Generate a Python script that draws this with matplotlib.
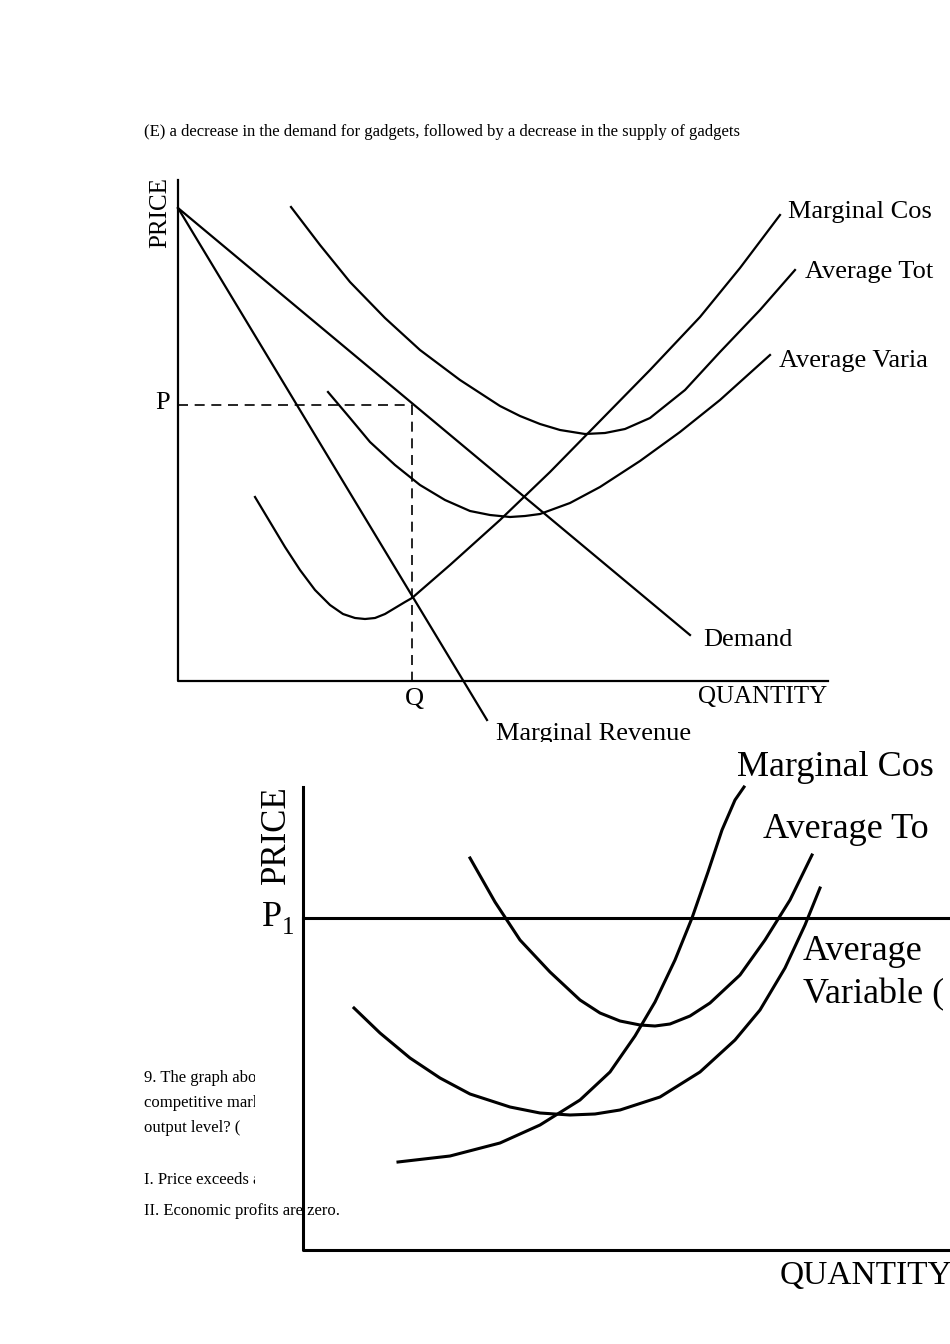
import numpy as np
import matplotlib
matplotlib.use("Agg")
from matplotlib import pyplot as plt
from matplotlib.patches import Rectangle

plt.rcParams['font.family'] = ['Liberation Serif', 'DejaVu Serif']

# page coordinates in pixels (x right, y down)
# ---- diagram 1 ----
demand_x = [178, 690]
demand_y = [208, 635]
mr_x = [178, 487]
mr_y = [208, 720]
mc1_x = [255, 270, 285, 300, 315, 330, 343, 355, 365, 375, 385, 395, 405, 412, 450, 500, 550, 600, 650, 700, 740, 780]
mc1_y = [497, 522, 547, 570, 590, 605, 614, 618, 619, 618, 614, 608, 602, 598, 565, 520, 472, 421, 370, 317, 268, 215]
atc1_x = [291, 320, 350, 385, 420, 460, 500, 520, 540, 560, 585, 605, 625, 650, 685, 720, 760, 795]
atc1_y = [207, 245, 282, 318, 350, 380, 406, 416, 424, 430, 434, 433, 429, 418, 390, 352, 310, 270]
avc1_x = [328, 350, 370, 395, 420, 445, 470, 490, 510, 525, 540, 570, 600, 640, 680, 720, 770]
avc1_y = [392, 418, 442, 465, 485, 500, 511, 515, 517, 516, 514, 503, 487, 461, 432, 400, 355]
P1_level, Q1_level = 405, 412

# ---- diagram 2 ----
mc2_x = [398, 450, 500, 540, 580, 610, 635, 655, 675, 692, 708, 722, 735, 744]
mc2_y = [1162, 1156, 1143, 1125, 1100, 1072, 1036, 1002, 960, 918, 872, 830, 800, 787]
atc2_x = [470, 495, 520, 550, 580, 600, 620, 640, 655, 670, 690, 710, 740, 765, 790, 812]
atc2_y = [858, 902, 940, 972, 1000, 1013, 1021, 1025, 1026, 1024, 1016, 1003, 975, 940, 900, 855]
avc2_x = [354, 380, 410, 440, 470, 510, 540, 570, 595, 620, 660, 700, 735, 760, 785, 805, 820]
avc2_y = [1008, 1033, 1058, 1078, 1094, 1107, 1113, 1115, 1114, 1110, 1097, 1072, 1040, 1010, 968, 925, 888]
P2_level = 918

fig = plt.figure(figsize=(9.5, 13.44), dpi=100)
ax = fig.add_axes([0, 0, 1, 1])
ax.set_xlim(0, 950)
ax.set_ylim(1344, 0)
ax.axis('off')

k = dict(color='black', lw=1.6)
txt = dict(fontsize=12, va='center', ha='left')

ax.text(144, 132, "(E) a decrease in the demand for gadgets, followed by a decrease in the supply of gadgets", **txt)

# diagram 1
ax.plot([178, 178, 828], [180, 681, 681], **k)
ax.plot(demand_x, demand_y, **k)
ax.plot(mr_x, mr_y, **k)
ax.plot(mc1_x, mc1_y, **k)
ax.plot(atc1_x, atc1_y, **k)
ax.plot(avc1_x, avc1_y, **k)
ax.plot([178, Q1_level], [P1_level, P1_level], color='black', lw=1.2, ls=(0, (6, 4)))
ax.plot([Q1_level, Q1_level], [P1_level, 681], color='black', lw=1.2, ls=(0, (6, 4)))
ax.text(160, 213, "PRICE", rotation=90, fontsize=18, ha='center', va='center')
ax.text(163, 403, "P", fontsize=19, ha='center', va='center')
ax.text(414, 699, "Q", fontsize=19, ha='center', va='center')
ax.text(763, 697, "QUANTITY", fontsize=18, ha='center', va='center')
ax.text(703, 640, "Demand", fontsize=19, ha='left', va='center')
ax.text(496, 734, "Marginal Revenue", fontsize=19, ha='left', va='center')
ax.text(788, 212, "Marginal Cos", fontsize=19, ha='left', va='center')
ax.text(805, 272, "Average Tot", fontsize=19, ha='left', va='center')
ax.text(779, 361, "Average Varia", fontsize=19, ha='left', va='center')

# question text (partly covered by diagram 2)
ax.text(144, 1078, "9. The graph above shows the cost curves of a firm in a perfectly", **txt)
ax.text(144, 1103, "competitive market. Which of the following is true at the profit-maximizing", **txt)
ax.text(144, 1128, "output level? (", **txt)
ax.text(144, 1180, "I. Price exceeds average variable cost.", **txt)
ax.text(144, 1211, "II. Economic profits are zero.", **txt)

# diagram 2 image background
ax.add_patch(Rectangle((255, 742), 700, 450, facecolor='white', edgecolor='none', zorder=3))
z = dict(zorder=4)
ax.plot([303, 303, 950], [787, 1250, 1250], color='black', lw=2.2, **z)
ax.plot([303, 950], [P2_level, P2_level], color='black', lw=2.2, **z)
ax.plot(mc2_x, mc2_y, color='black', lw=2.2, **z)
ax.plot(atc2_x, atc2_y, color='black', lw=2.2, **z)
ax.plot(avc2_x, avc2_y, color='black', lw=2.2, **z)
ax.text(276, 835, "PRICE", rotation=90, fontsize=25, ha='center', va='center', **z)
ax.text(262, 918, "P", fontsize=26, ha='left', va='center', **z)
ax.text(282, 928, "1", fontsize=18, ha='left', va='center', **z)
ax.text(780, 1276, "QUANTITY", fontsize=24, ha='left', va='center', **z)
ax.text(737, 768, "Marginal Cos", fontsize=26, ha='left', va='center', **z)
ax.text(763, 830, "Average To", fontsize=26, ha='left', va='center', **z)
ax.text(803, 952, "Average", fontsize=26, ha='left', va='center', **z)
ax.text(803, 995, "Variable (", fontsize=26, ha='left', va='center', **z)

fig.savefig("out.png", dpi=100)
